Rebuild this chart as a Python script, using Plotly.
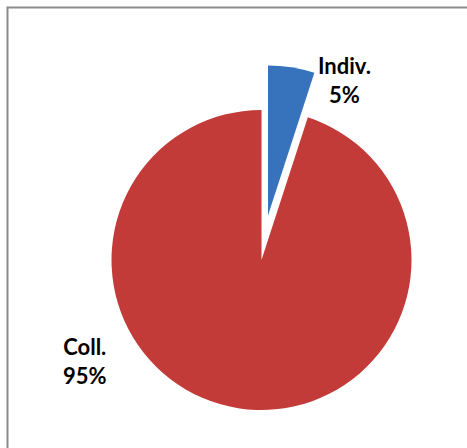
import plotly.graph_objects as go

labels = ["Indiv.", "Coll."]
values = [5, 95]
colors = ["#3772bd", "#c33b39"]

W, H = 467, 448
fig = go.Figure()

def dom(cx, cy, r):
    return dict(x=[(cx - r) / W, (cx + r) / W], y=[(H - cy - r) / H, (H - cy + r) / H])

# main pie (Coll.), Indiv. hidden
fig.add_trace(go.Pie(
    labels=labels, values=values, sort=False, direction="clockwise", rotation=0,
    marker=dict(colors=["rgba(0,0,0,0)", colors[1]], line=dict(width=0)),
    textinfo="none", hoverinfo="skip", showlegend=False,
    domain=dom(261.5, 260, 150),
))
# exploded slice (Indiv.)
fig.add_trace(go.Pie(
    labels=labels, values=values, sort=False, direction="clockwise", rotation=0,
    marker=dict(colors=[colors[0], "rgba(0,0,0,0)"], line=dict(width=0)),
    textinfo="none", hoverinfo="skip", showlegend=False,
    domain=dom(268, 215.5, 150),
))

total = sum(values)
label_pos = [(344, 80), (85, 361)]
for lab, v, (x, y) in zip(labels, values, label_pos):
    fig.add_annotation(
        x=x / W, y=(H - y) / H, xref="paper", yref="paper",
        xanchor="center", yanchor="middle",
        text=f"<b>{lab}<br>{round(100 * v / total)}%</b>",
        showarrow=False, align="center",
        font=dict(family="Lato, Open Sans, sans-serif", size=22, color="#000"),
    )

fig.add_shape(type="rect", xref="paper", yref="paper",
              x0=7.5 / W, x1=1.1, y0=-0.1, y1=(H - 7.5) / H,
              line=dict(color="#8a8a8a", width=2))

fig.update_layout(width=W, height=H, margin=dict(l=0, r=0, t=0, b=0),
                  paper_bgcolor="white", plot_bgcolor="white")
fig.write_html("out.html")
